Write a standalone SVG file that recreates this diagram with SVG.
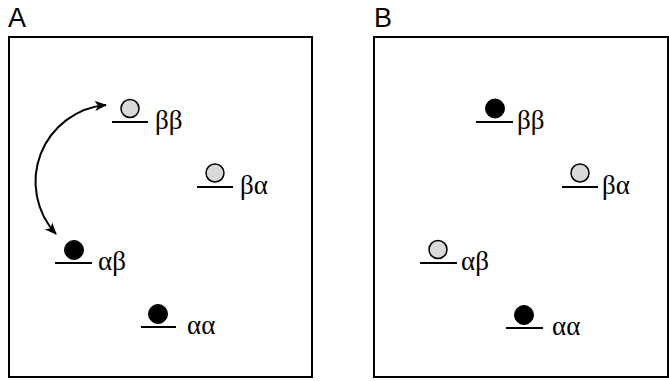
<svg xmlns="http://www.w3.org/2000/svg" width="669" height="381" viewBox="0 0 669 381">
<style>
.frame{fill:none;stroke:#000;stroke-width:2}
.base{stroke:#000;stroke-width:2}
.g{fill:#d9d9d9;stroke:#000;stroke-width:1.5}
.k{fill:#000;stroke:#000;stroke-width:1}
.lbl{font-family:"Liberation Serif","DejaVu Serif",serif;font-size:27px;fill:#000}
.panel{font-family:"Liberation Sans",Arial,sans-serif;font-size:27px;fill:#000}
.arr{fill:none;stroke:#000;stroke-width:2}
</style>
<defs>
<marker id="ah" viewBox="0 0 12 10" refX="11" refY="5" markerWidth="12" markerHeight="10" markerUnits="userSpaceOnUse" orient="auto-start-reverse">
<path d="M0,0 L12,5 L0,10 L3,5 Z" fill="#000"/>
</marker>
</defs>
<text class="panel" x="8" y="27">A</text>
<text class="panel" x="374" y="27">B</text>
<rect class="frame" x="9" y="37" width="303" height="340"/>
<rect class="frame" x="374" y="37" width="294" height="340"/>
<g id="connectors">
<path class="arr" d="M106,105 A77,77 0 0 0 56,234" marker-start="url(#ah)" marker-end="url(#ah)"/>
</g>
<g id="A-bb">
<line class="base" x1="112" y1="122" x2="148" y2="122"/>
<circle class="g" cx="130" cy="108.5" r="9"/>
<text class="lbl" x="155" y="129">ββ</text>
</g>
<g id="A-ba">
<line class="base" x1="197" y1="187" x2="233" y2="187"/>
<circle class="g" cx="215" cy="173" r="9"/>
<text class="lbl" x="240" y="194">βα</text>
</g>
<g id="A-ab">
<line class="base" x1="55" y1="263" x2="92" y2="263"/>
<circle class="k" cx="74" cy="250" r="9.5"/>
<text class="lbl" x="98" y="270">αβ</text>
</g>
<g id="A-aa">
<line class="base" x1="141" y1="327" x2="176" y2="327"/>
<circle class="k" cx="158" cy="314" r="9.5"/>
<text class="lbl" x="187" y="334">αα</text>
</g>
<g id="B-bb">
<line class="base" x1="476" y1="122" x2="513" y2="122"/>
<circle class="k" cx="495" cy="108.5" r="9.5"/>
<text class="lbl" x="517" y="129">ββ</text>
</g>
<g id="B-ba">
<line class="base" x1="562" y1="187" x2="598" y2="187"/>
<circle class="g" cx="580" cy="173" r="9"/>
<text class="lbl" x="602" y="194">βα</text>
</g>
<g id="B-ab">
<line class="base" x1="420" y1="263" x2="457" y2="263"/>
<circle class="g" cx="438" cy="249.5" r="9"/>
<text class="lbl" x="461" y="270">αβ</text>
</g>
<g id="B-aa">
<line class="base" x1="506" y1="328" x2="543" y2="328"/>
<circle class="k" cx="524" cy="315" r="9.5"/>
<text class="lbl" x="552" y="335">αα</text>
</g>
</svg>
